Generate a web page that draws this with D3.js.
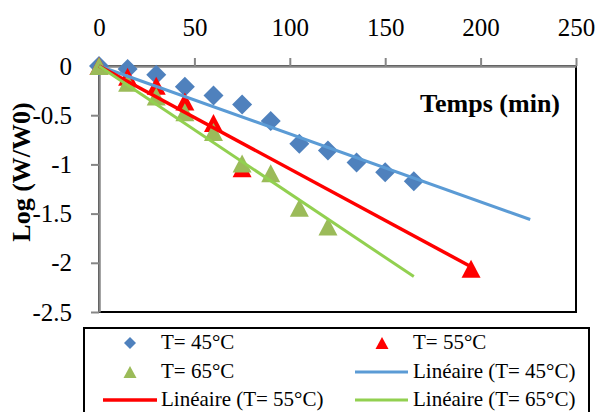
<!DOCTYPE html>
<html><head><meta charset="utf-8">
<script src="https://cdn.jsdelivr.net/npm/d3@7"></script>
<style>body{margin:0;background:#fff}svg{display:block}</style>
</head><body>
<svg id="c" width="597" height="412"></svg>
<script>
// ---- data ----
const xTicks = [0, 50, 100, 150, 200, 250];
const yTicks = [0, -0.5, -1, -1.5, -2, -2.5];

const t45 = [0, 15, 30, 45, 60, 75, 90, 105, 120, 135, 150, 165];
const v45 = [0, -0.03, -0.09, -0.21, -0.30, -0.39, -0.56, -0.79, -0.86, -0.98, -1.08, -1.17];

const t55 = [0, 15, 30, 45, 60, 75, 195];
const v55 = [0, -0.11, -0.20, -0.36, -0.58, -1.04, -2.06];

const t65 = [0, 15, 30, 45, 60, 75, 90, 105, 120];
const v65 = [0, -0.17, -0.31, -0.47, -0.67, -0.99, -1.09, -1.44, -1.63];

// trend line end points
const fit45T = [0, 226], fit45V = [0, -1.56];
const fit55T = [0, 195], fit55V = [0, -2.04];
const fit65T = [0, 165], fit65V = [0, -2.14];

const legendLabels = ["T= 45°C", "T= 55°C", "T= 65°C", "Linéaire (T= 45°C)", "Linéaire (T= 55°C)", "Linéaire (T= 65°C)"];

// ---- drawing ----
const svg = d3.select("#c");
const FONT = "'Liberation Serif','Times New Roman',serif";
const x = d3.scaleLinear().domain([0, 250]).range([99, 576]);
const y = d3.scaleLinear().domain([0, -2.5]).range([66, 312]);

const cBlueM = "#4f81bd", cBlueL = "#5b9bd5", cRed = "#ff0000", cGreenM = "#9bbb59", cGreenL = "#92d050";

// plot border
svg.append("rect").attr("x", x(0)).attr("y", y(0)).attr("width", x(250) - x(0)).attr("height", y(-2.5) - y(0))
  .attr("fill", "none").attr("stroke", "#000").attr("stroke-width", 2);

// axes
const gx = svg.append("g").attr("transform", `translate(0,${y(0)})`)
  .call(d3.axisTop(x).tickValues(xTicks).tickSize(8).tickSizeOuter(0).tickPadding(22).tickFormat(d => String(d)));
const gy = svg.append("g").attr("transform", `translate(${x(0)},0)`)
  .call(d3.axisLeft(y).tickValues(yTicks).tickSize(8).tickSizeOuter(0).tickPadding(19).tickFormat(d => String(d)));
[gx, gy].forEach(g => {
  g.select(".domain").attr("stroke", "#868686").attr("stroke-width", 2.5);
  g.selectAll(".tick line").attr("stroke", "#868686").attr("stroke-width", 2);
  g.selectAll(".tick text").attr("font-family", FONT).attr("font-size", 25).attr("fill", "#000");
});

// marker paths
const diamond = (cx, cy, r) => `M${cx},${cy - r}L${cx + r},${cy}L${cx},${cy + r}L${cx - r},${cy}Z`;
const tri = (cx, cy, w, h) => `M${cx},${cy - h / 2}L${cx + w / 2},${cy + h / 2}L${cx - w / 2},${cy + h / 2}Z`;

svg.append("g").selectAll("path").data(t45.map((t, i) => [t, v45[i]])).join("path")
  .attr("d", d => diamond(x(d[0]), y(d[1]), 10)).attr("fill", cBlueM);
svg.append("g").selectAll("path").data(t55.map((t, i) => [t, v55[i]])).join("path")
  .attr("d", d => tri(x(d[0]), y(d[1]), 19, 18)).attr("fill", cRed);
svg.append("g").selectAll("path").data(t65.map((t, i) => [t, v65[i]])).join("path")
  .attr("d", d => tri(x(d[0]), y(d[1]), 19, 18)).attr("fill", cGreenM);

// trend lines
const line = d3.line().x(d => x(d[0])).y(d => y(d[1]));
[[fit45T, fit45V, cBlueL, 3], [fit55T, fit55V, cRed, 3.5], [fit65T, fit65V, cGreenL, 3]].forEach(([ts, vs, c, w]) => {
  svg.append("path").attr("d", line(ts.map((t, i) => [t, vs[i]]))).attr("fill", "none").attr("stroke", c).attr("stroke-width", w);
});

// axis titles
svg.append("text").attr("x", 560).attr("y", 112).attr("text-anchor", "end")
  .attr("font-family", FONT).attr("font-size", 26).attr("font-weight", "bold").text("Temps (min)");
svg.append("text").attr("transform", "translate(30,172) rotate(-90)").attr("text-anchor", "middle")
  .attr("font-family", FONT).attr("font-size", 26).attr("font-weight", "bold").text("Log (W/W0)");

// legend
svg.append("rect").attr("x", 84).attr("y", 328).attr("width", 505).attr("height", 100)
  .attr("fill", "#fff").attr("stroke", "#000").attr("stroke-width", 2);
const rowsY = [343, 372, 400];
const cols = [{sym: 130, line: [103, 157], text: 161}, {sym: 382, line: [355, 408], text: 413}];
const items = [
  {type: "dia", c: cBlueM}, {type: "tri", c: cRed}, {type: "tri", c: cGreenM},
  {type: "line", c: cBlueL}, {type: "line", c: cRed}, {type: "line", c: cGreenL}
];
items.forEach((it, i) => {
  const col = cols[i % 2], ry = rowsY[Math.floor(i / 2)];
  if (it.type === "dia") svg.append("path").attr("d", diamond(col.sym, ry, 6)).attr("fill", it.c);
  else if (it.type === "tri") svg.append("path").attr("d", tri(col.sym, ry, 13, 12)).attr("fill", it.c);
  else svg.append("line").attr("x1", col.line[0]).attr("x2", col.line[1]).attr("y1", ry).attr("y2", ry)
    .attr("stroke", it.c).attr("stroke-width", it.c === cRed ? 3.5 : 3);
  svg.append("text").attr("x", col.text).attr("y", ry + 6).attr("font-family", FONT).attr("font-size", 21)
    .attr("fill", "#000").text(legendLabels[i]);
});
</script>
</body></html>
